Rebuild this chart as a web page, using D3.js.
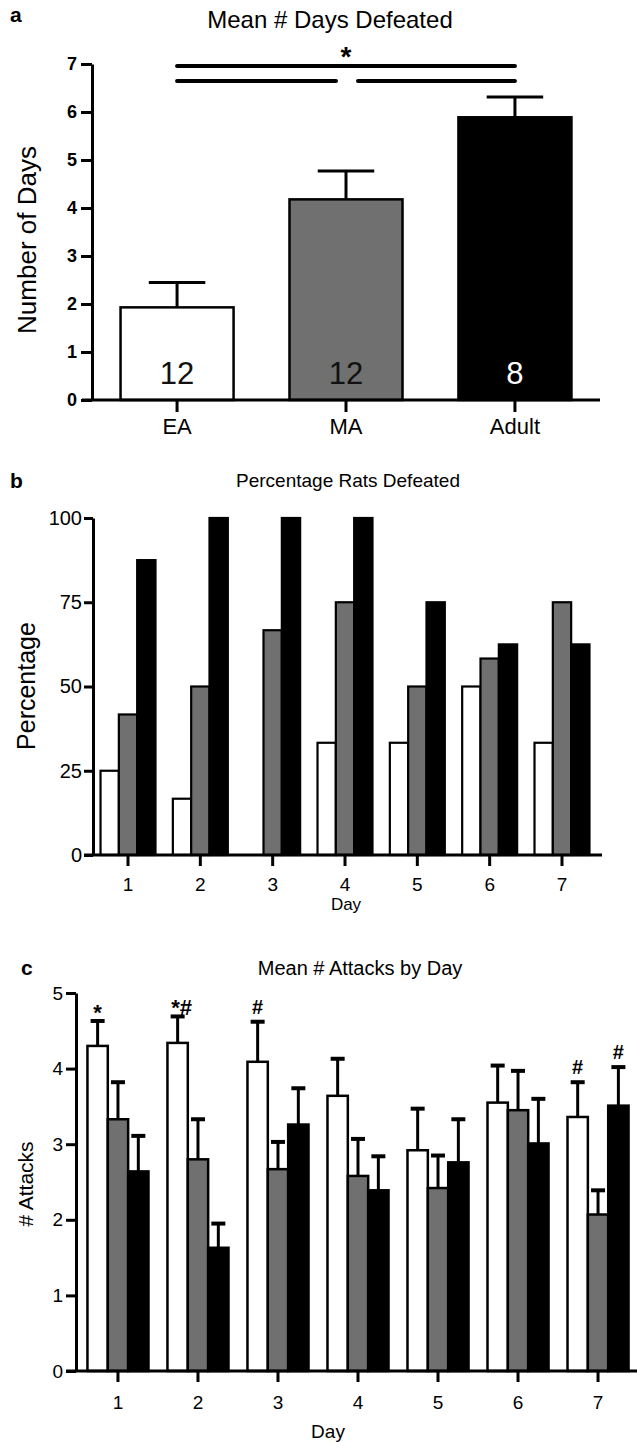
<!DOCTYPE html>
<html>
<head>
<meta charset="utf-8">
<title>Defeat figure</title>
<script src="https://cdn.jsdelivr.net/npm/d3@7"></script>
<style>
  html, body { margin: 0; padding: 0; background: #fff; }
  svg { display: block; }
</style>
</head>
<body>
<div id="chart"></div>
<script>
// Groups and fills
const groups = ['EA', 'MA', 'Adult'];
const groupFills = ['#ffffff', '#707070', '#000000'];

// Panel a: mean # days defeated
const daysDefeatedMean = [1.93, 4.18, 5.89];
const daysDefeatedSem = [0.52, 0.59, 0.42];
const groupN = [12, 12, 8];
const sigPairs = [['EA', 'Adult'], ['EA', 'MA'], ['MA', 'Adult']];

// Panel b: percentage rats defeated per day
const days = ['1', '2', '3', '4', '5', '6', '7'];
const pctEA = [25, 16.7, 0, 33.3, 33.3, 50, 33.3];
const pctMA = [41.7, 50, 66.7, 75, 50, 58.3, 75];
const pctAdult = [87.5, 100, 100, 100, 75, 62.5, 62.5];

// Panel c: mean # attacks per day (mean, sem)
const attacksEA = [4.30, 4.34, 4.09, 3.64, 2.92, 3.55, 3.36];
const attacksEASem = [0.33, 0.35, 0.53, 0.49, 0.55, 0.49, 0.46];
const attacksMA = [3.33, 2.80, 2.67, 2.58, 2.42, 3.45, 2.07];
const attacksMASem = [0.49, 0.53, 0.36, 0.49, 0.43, 0.52, 0.32];
const attacksAdult = [2.64, 1.63, 3.26, 2.39, 2.76, 3.01, 3.51];
const attacksAdultSem = [0.47, 0.32, 0.48, 0.45, 0.57, 0.59, 0.51];
const attackMarkDays = ['1', '2', '3', '7', '7'];
const attackMarkGroups = ['EA', 'EA', 'EA', 'EA', 'Adult'];
const attackMarkText = ['*', '*#', '#', '#', '#'];

const FONT = '"Liberation Sans", Arial, Helvetica, sans-serif';
const fillOf = d3.scaleOrdinal().domain(groups).range(groupFills);

const svg = d3.select('#chart')
  .append('svg')
  .attr('width', 637)
  .attr('height', 1442)
  .style('font-family', FONT);

svg.append('rect')
  .attr('width', 637)
  .attr('height', 1442)
  .attr('fill', '#fff');

/**
 * Style an axis group: thick black lines, custom font
 */
function styleAxis(g, fontSize, bold) {
  g.attr('font-family', FONT)
    .attr('font-size', fontSize);
  g.selectAll('.domain').attr('stroke', '#000').attr('stroke-width', 3);
  g.selectAll('.tick line').attr('stroke', '#000').attr('stroke-width', 3);
  g.selectAll('.tick text')
    .attr('fill', '#000')
    .style('font-weight', bold ? 'bold' : 'normal');
}

function addText(x, y, str, size, opts = {}) {
  return svg.append('text')
    .attr('x', x)
    .attr('y', y)
    .attr('text-anchor', opts.anchor || 'middle')
    .attr('font-size', size)
    .attr('font-weight', opts.bold ? 'bold' : 'normal')
    .attr('fill', opts.fill || '#000')
    .text(str);
}

function addYLabel(x, y, str, size) {
  svg.append('text')
    .attr('transform', `translate(${x},${y}) rotate(-90)`)
    .attr('text-anchor', 'middle')
    .attr('font-size', size)
    .attr('fill', '#000')
    .text(str);
}

/**
 * Panel a - Mean # Days Defeated
 */
function drawPanelA() {
  const x = d3.scaleBand().domain(groups).range([92, 600])
    .paddingInner(0.331).paddingOuter(0.169);
  const y = d3.scaleLinear().domain([0, 7]).range([400, 64]);
  const bw = x.bandwidth();

  addText(10, 22, 'a', 21, { anchor: 'start', bold: true });
  addText(330, 28, 'Mean # Days Defeated', 24);
  addYLabel(36, 240, 'Number of Days', 26);

  const rows = groups.map((g, i) => ({ g, mean: daysDefeatedMean[i], sem: daysDefeatedSem[i], n: groupN[i] }));

  // error bars (upper only)
  const err = svg.append('g').attr('stroke', '#000').attr('stroke-width', 3);
  rows.forEach(d => {
    const cx = x(d.g) + bw / 2;
    err.append('line').attr('x1', cx).attr('x2', cx)
      .attr('y1', y(d.mean)).attr('y2', y(d.mean + d.sem));
    err.append('line').attr('x1', cx - bw / 4).attr('x2', cx + bw / 4)
      .attr('y1', y(d.mean + d.sem)).attr('y2', y(d.mean + d.sem));
  });

  svg.append('g').selectAll('rect')
    .data(rows)
    .enter()
    .append('rect')
    .attr('x', d => x(d.g))
    .attr('y', d => y(d.mean))
    .attr('width', bw)
    .attr('height', d => y(0) - y(d.mean))
    .attr('fill', d => fillOf(d.g))
    .attr('stroke', '#000')
    .attr('stroke-width', 2.5);

  // n per group
  svg.append('g').selectAll('text')
    .data(rows)
    .enter()
    .append('text')
    .attr('x', d => x(d.g) + bw / 2)
    .attr('y', 384)
    .attr('text-anchor', 'middle')
    .attr('font-size', 31)
    .attr('fill', d => d.g === 'Adult' ? '#fff' : '#111')
    .text(d => d.n);

  // significance bars
  const cx = g => x(g) + bw / 2;
  const sig = svg.append('g').attr('stroke', '#000').attr('stroke-width', 4).attr('stroke-linecap', 'round');
  sigPairs.forEach((p, i) => {
    const yy = i === 0 ? 66 : 81;
    let x1 = cx(p[0]);
    let x2 = cx(p[1]);
    if (i === 1) x2 -= 10;
    if (i === 2) x1 += 12;
    sig.append('line').attr('x1', x1).attr('x2', x2).attr('y1', yy).attr('y2', yy);
  });
  addText((cx('EA') + cx('Adult')) / 2, 66, '*', 28, { bold: true });

  // axes
  svg.append('line')
    .attr('x1', 82).attr('x2', 600)
    .attr('y1', y(0)).attr('y2', y(0))
    .attr('stroke', '#000').attr('stroke-width', 3);

  svg.append('g')
    .attr('transform', 'translate(92,0)')
    .call(d3.axisLeft(y).ticks(7).tickSize(11).tickPadding(4).tickSizeOuter(0))
    .call(g => styleAxis(g, 18, true));

  svg.append('g')
    .attr('transform', `translate(0,${y(0)})`)
    .call(d3.axisBottom(x).tickSize(12).tickPadding(6))
    .call(g => g.select('.domain').remove())
    .call(g => styleAxis(g, 22, false));
}

/**
 * Panel b - Percentage Rats Defeated
 */
function drawPanelB() {
  const x = d3.scaleBand().domain(days).range([93, 597])
    .paddingInner(0.24).paddingOuter(0.104);
  const xi = d3.scaleBand().domain(groups).range([0, x.bandwidth()]);
  const y = d3.scaleLinear().domain([0, 100]).range([855, 518]);
  const series = [pctEA, pctMA, pctAdult];

  addText(10, 488, 'b', 21, { anchor: 'start', bold: true });
  addText(348, 487, 'Percentage Rats Defeated', 19);
  addYLabel(35, 686, 'Percentage', 25);
  addText(346, 910, 'Day', 17);

  const cells = [];
  days.forEach((day, i) => {
    groups.forEach((g, j) => cells.push({ day, g, v: series[j][i] }));
  });

  svg.append('g').selectAll('rect')
    .data(cells)
    .enter()
    .append('rect')
    .attr('x', d => x(d.day) + xi(d.g))
    .attr('y', d => y(d.v))
    .attr('width', xi.bandwidth())
    .attr('height', d => y(0) - y(d.v))
    .attr('fill', d => fillOf(d.g))
    .attr('stroke', '#000')
    .attr('stroke-width', 2.2);

  svg.append('line')
    .attr('x1', 84).attr('x2', 602)
    .attr('y1', y(0)).attr('y2', y(0))
    .attr('stroke', '#000').attr('stroke-width', 3);

  svg.append('g')
    .attr('transform', 'translate(93,0)')
    .call(d3.axisLeft(y).tickValues([0, 25, 50, 75, 100]).tickSize(9).tickPadding(2).tickSizeOuter(0))
    .call(g => styleAxis(g, 20, false));

  svg.append('g')
    .attr('transform', `translate(0,${y(0)})`)
    .call(d3.axisBottom(x).tickSize(11).tickPadding(12))
    .call(g => g.select('.domain').remove())
    .call(g => styleAxis(g, 19, false));
}

/**
 * Panel c - Mean # Attacks by Day
 */
function drawPanelC() {
  const x = d3.scaleBand().domain(days).range([76, 640])
    .paddingInner(0.237).paddingOuter(0.143);
  const xi = d3.scaleBand().domain(groups).range([0, x.bandwidth()]);
  const y = d3.scaleLinear().domain([0, 5]).range([1371, 993]);
  const means = [attacksEA, attacksMA, attacksAdult];
  const sems = [attacksEASem, attacksMASem, attacksAdultSem];

  addText(21, 975, 'c', 21, { anchor: 'start', bold: true });
  addText(360, 975, 'Mean # Attacks by Day', 20);
  addYLabel(33, 1184, '# Attacks', 21);
  addText(328, 1438, 'Day', 19);

  const cells = [];
  days.forEach((day, i) => {
    groups.forEach((g, j) => cells.push({ day, g, mean: means[j][i], sem: sems[j][i] }));
  });
  const cxOf = (day, g) => x(day) + xi(g) + xi.bandwidth() / 2;

  const err = svg.append('g').attr('stroke', '#000').attr('stroke-width', 3);
  cells.forEach(d => {
    const cx = cxOf(d.day, d.g);
    const top = y(d.mean + d.sem);
    err.append('line').attr('x1', cx).attr('x2', cx).attr('y1', y(d.mean)).attr('y2', top);
    err.append('line').attr('x1', cx - 7).attr('x2', cx + 7).attr('y1', top).attr('y2', top)
      .attr('stroke-width', 4);
  });

  svg.append('g').selectAll('rect')
    .data(cells)
    .enter()
    .append('rect')
    .attr('x', d => x(d.day) + xi(d.g))
    .attr('y', d => y(d.mean))
    .attr('width', xi.bandwidth())
    .attr('height', d => y(0) - y(d.mean))
    .attr('fill', d => fillOf(d.g))
    .attr('stroke', '#000')
    .attr('stroke-width', 2.5);

  // significance marks
  attackMarkText.forEach((t, k) => {
    const day = attackMarkDays[k];
    const g = attackMarkGroups[k];
    const i = days.indexOf(day);
    const j = groups.indexOf(g);
    const top = y(means[j][i] + sems[j][i]);
    const isStar = t.indexOf('*') >= 0;
    addText(cxOf(day, g) + (t.length > 1 ? 4 : 0), top - (isStar ? 1 : 8), t, isStar ? 22 : 20,
      { bold: true });
  });

  svg.append('line')
    .attr('x1', 66).attr('x2', 637)
    .attr('y1', y(0)).attr('y2', y(0))
    .attr('stroke', '#000').attr('stroke-width', 3);

  svg.append('g')
    .attr('transform', 'translate(76,0)')
    .call(d3.axisLeft(y).ticks(5).tickSize(10).tickPadding(3).tickSizeOuter(0))
    .call(g => styleAxis(g, 19, false));

  svg.append('g')
    .attr('transform', `translate(0,${y(0)})`)
    .call(d3.axisBottom(x).tickSize(11).tickPadding(14))
    .call(g => g.select('.domain').remove())
    .call(g => styleAxis(g, 19, false));
}

drawPanelA();
drawPanelB();
drawPanelC();
</script>
</body>
</html>
